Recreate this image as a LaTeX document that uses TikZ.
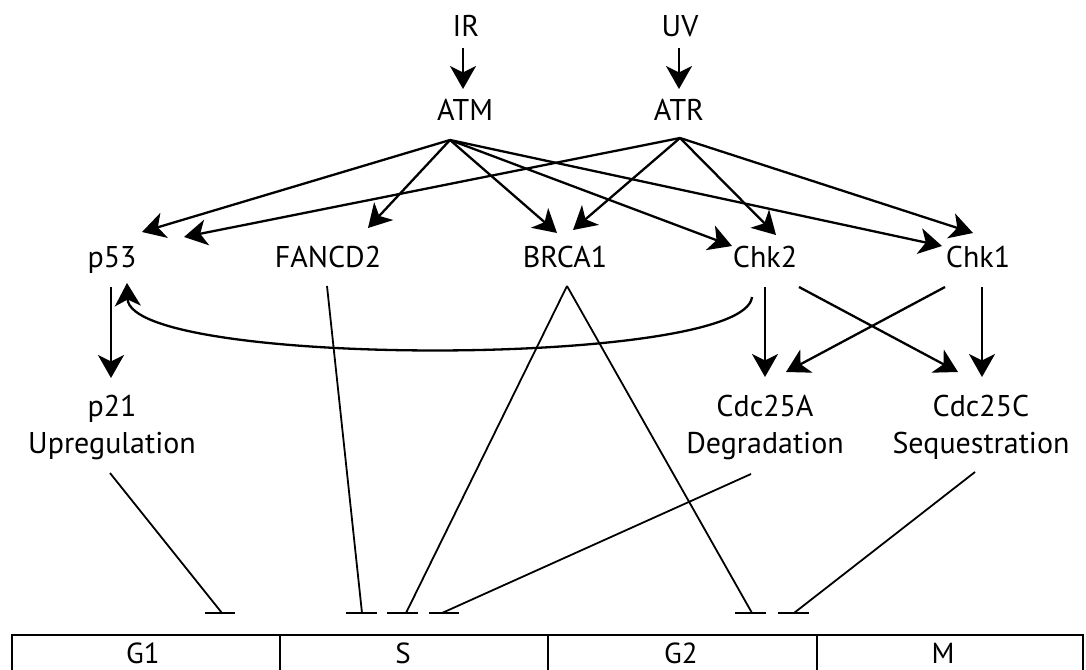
\documentclass[tikz,border=0pt]{standalone}
\usepackage{fontspec}
\setmainfont{PT Sans}
\usetikzlibrary{arrows.meta,calc}
\begin{document}
\begin{tikzpicture}[x=1pt,y=-1pt,
  lbl/.style={font=\fontsize{30}{37}\selectfont, inner sep=0pt, anchor=base},
  cell/.style={font=\fontsize{29}{35}\selectfont, inner sep=0pt, anchor=base},
  act/.style={line width=2.3pt, -{Stealth[length=23pt,width=26pt,inset=6.5pt]}},
  inh/.style={line width=1.8pt},
  tbar/.style={line width=2.6pt},
  frame/.style={line width=2.6pt}]
\useasboundingbox (0,0) rectangle (1086,669);
% labels
\node[lbl] (ir) at (466,37) {IR};
\node[lbl] (uv) at (680,37) {UV};
\node[lbl] (atm) at (465,120) {ATM};
\node[lbl] (atr) at (679,120) {ATR};
\node[lbl] (p53) at (112,267) {p53};
\node[lbl] (fancd2) at (328,267) {FANCD2};
\node[lbl] (brca1) at (565,267) {BRCA1};
\node[lbl] (chk2) at (765,267) {Chk2};
\node[lbl] (chk1) at (978,267) {Chk1};
\node[lbl] (p21) at (112,416) {\begin{tabular}[t]{@{}c@{}}p21\\Upregulation\end{tabular}};
\node[lbl] (c25a) at (765,416) {\begin{tabular}[t]{@{}c@{}}Cdc25A\\Degradation\end{tabular}};
\node[lbl] (c25c) at (981,416) {\begin{tabular}[t]{@{}c@{}}Cdc25C\\Sequestration\end{tabular}};
% sources
\coordinate (atmo) at ($(atm.base)+(-15,20)$);
\coordinate (atro) at ($(atr.base)+(1,18)$);
\draw[act] ($(ir.base)+(-3,11)$) -- ($(atm.base)+(-2,-31)$);
\draw[act] ($(uv.base)+(-1,11)$) -- ($(atr.base)+(0,-31)$);
\draw[act] (atmo) -- ($(p53.base)+(30,-35)$);
\draw[act] (atro) -- ($(p53.base)+(72,-30)$);
\draw[act] (atmo) -- ($(fancd2.base)+(40,-39)$);
\draw[act] (atmo) -- ($(brca1.base)+(-8,-34)$);
\draw[act] (atro) -- ($(brca1.base)+(8,-37)$);
\draw[act] (atmo) -- ($(chk2.base)+(-33,-21)$);
\draw[act] (atro) -- ($(chk2.base)+(11,-32)$);
\draw[act] (atmo) -- ($(chk1.base)+(-36,-21)$);
\draw[act] (atro) -- ($(chk1.base)+(-5,-34)$);
% second level
\draw[act] ($(p53.base)+(-1,20)$) -- ($(p21.base)+(-1,-38)$);
\draw[act] ($(chk2.base)+(0,20)$) -- ($(c25a.base)+(0,-39)$);
\draw[act] ($(chk1.base)+(4,20)$) -- ($(c25c.base)+(1,-39)$);
\draw[act] ($(chk1.base)+(-33,20)$) -- ($(c25a.base)+(21,-44)$);
\draw[act] ($(chk2.base)+(34,20)$) -- ($(c25c.base)+(-23,-44)$);
\draw[act] ($(chk2.base)+(-13,30)$) .. controls ($(chk2.base)+(-20,101)$) and ($(p53.base)+(18,101)$) .. ($(p53.base)+(15,16)$);
% inhibition ends
\coordinate (g1a) at (222,613);
\coordinate (s1) at (362,613);
\coordinate (s2) at (406,613);
\coordinate (s3) at (442,613);
\coordinate (g2a) at (752,613);
\coordinate (g2b) at (794,613);
\draw[inh] ($(p21.base)+(-2,57)$) -- (g1a);
\draw[inh] ($(fancd2.base)+(-1,19)$) -- (s1);
\draw[inh] ($(brca1.base)+(2,19)$) -- (s2);
\draw[inh] ($(c25a.base)+(-14,58)$) -- (s3);
\draw[inh] ($(brca1.base)+(2,19)$) -- (g2a);
\draw[inh] ($(c25c.base)+(-6,56)$) -- (g2b);
\draw[tbar] ($(g1a)+(-17,0)$) -- ($(g1a)+(13,0)$);
\draw[tbar] ($(s1)+(-16,0)$) -- ($(s1)+(15,0)$);
\draw[tbar] ($(s2)+(-19,0)$) -- ($(s2)+(12,0)$);
\draw[tbar] ($(s3)+(-13,0)$) -- ($(s3)+(17,0)$);
\draw[tbar] ($(g2a)+(-17,0)$) -- ($(g2a)+(14,0)$);
\draw[tbar] ($(g2b)+(-16,0)$) -- ($(g2b)+(15,0)$);
% cell cycle bar
\draw[frame] (12,672) -- (12,635) -- (1083,635) -- (1083,672);
\draw[frame] (280,635) -- (280,672);
\draw[frame] (548,635) -- (548,672);
\draw[frame] (817,635) -- (817,672);
\node[cell] (g1) at (143,663) {G1};
\node[cell] (s) at (403,663) {S};
\node[cell] (g2) at (681,663) {G2};
\node[cell] (m) at (943,663) {M};
\end{tikzpicture}
\end{document}
